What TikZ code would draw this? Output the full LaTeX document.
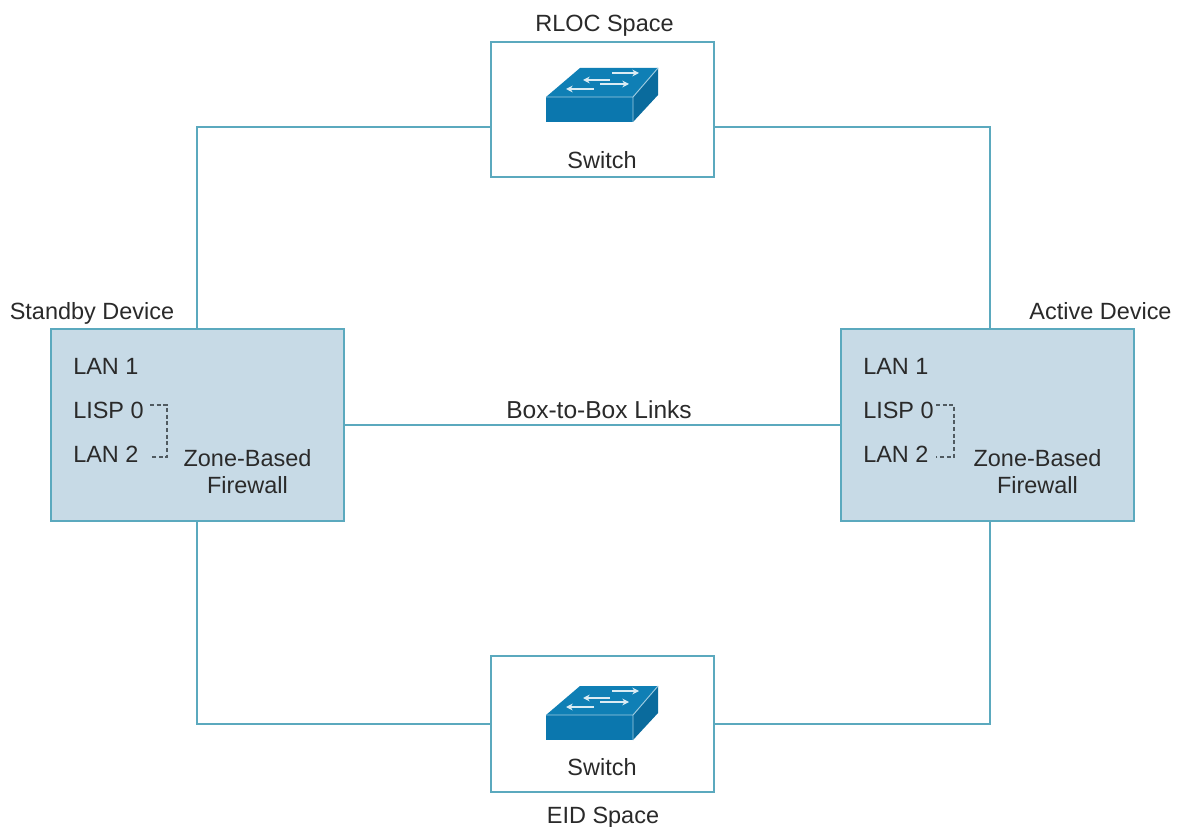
\documentclass[tikz,border=0pt]{standalone}
\usepackage{fontspec}
\setmainfont{Liberation Sans}
\usetikzlibrary{arrows.meta}
\definecolor{linec}{HTML}{5BA9BE}
\definecolor{boxfill}{HTML}{C7DAE6}
\definecolor{swfront}{HTML}{0B77AE}
\definecolor{swtop}{HTML}{0F7FB5}
\definecolor{txt}{HTML}{2A2A2A}
\definecolor{dash}{HTML}{505A60}
\tikzset{
  x=0.75pt,y=-0.75pt,
  swbox/.style={draw=linec,line width=1.3pt,fill=white,minimum width=167pt,minimum height=101.5pt,inner sep=0pt},
  fwbox/.style={draw=linec,line width=1.3pt,fill=boxfill,minimum width=220pt,minimum height=144pt,inner sep=0pt},
  link/.style={draw=linec,line width=1.3pt},
  lbl/.style={font=\fontsize{17.6pt}{21pt}\selectfont,text=txt,inner sep=0pt,anchor=base},
  jump/.style={draw=dash,line width=0.8pt,densely dashed},
  swarrow/.style={draw=white!85!swtop,line width=0.9pt,-{Stealth[length=5pt,width=5pt]}},
  pics/switchicon/.style={code={
    \fill[swfront] (0,0) rectangle (87,25);
    \fill[swtop] (0,0) -- (34,-29) -- (112,-29) -- (87,0) -- cycle;
    \fill[swfront!90!black] (87,0) -- (112,-29) -- (112,-2) -- (87,25) -- cycle;
    \draw[white!60!swtop,line width=0.7pt,line join=round] (0,0) -- (87,0) -- (112,-29) (87,0) -- (87,25);
    \draw[swarrow] (66,-24) -- (93,-24);
    \draw[swarrow] (64,-17) -- (37,-17);
    \draw[swarrow] (54,-13) -- (83,-13);
    \draw[swarrow] (48,-8) -- (20,-8);
  }}
}
\begin{document}
\begin{tikzpicture}
\useasboundingbox (0,0) rectangle (1186,827);
\fill[white] (0,0) rectangle (1186,827);

\node[swbox] (rloc) at (602.5,109.5) {};
\node[swbox] (eid) at (602.5,724) {};
\node[fwbox] (standby) at (197.5,425) {};
\node[fwbox] (active) at (987.5,425) {};

\coordinate (rlocL) at ([yshift=-13.1pt]rloc.west);
\coordinate (rlocR) at ([yshift=-13.1pt]rloc.east);
\coordinate (activeT) at ([xshift=1.9pt]active.north);
\coordinate (activeB) at ([xshift=1.9pt]active.south);
\coordinate (standbyT) at ([xshift=-0.2pt]standby.north);
\coordinate (standbyB) at ([xshift=-0.2pt]standby.south);

\draw[link] (standbyT) |- (rlocL);
\draw[link] (activeT) |- (rlocR);
\draw[link] (standbyB) |- (eid.west);
\draw[link] (activeB) |- (eid.east);
\draw[link] (standby.east) -- (active.west);

\pic at (546,97) {switchicon};
\pic at (546,715) {switchicon};

\node[lbl] (t1) at (604.5,32) {RLOC Space};
\node[lbl] (t2) at (602,169) {Switch};
\node[lbl] (t3) at (602,775) {Switch};
\node[lbl] (t4) at (603,823) {EID Space};
\node[lbl] (t5) at (92,320) {Standby Device};
\node[lbl] (t6) at (1100.5,320) {Active Device};
\node[lbl,font=\fontsize{18.4pt}{21pt}\selectfont] (t7) at (599,418) {Box-to-Box Links};

\node[lbl,anchor=base west] (a1) at (73,375) {LAN 1};
\node[lbl,anchor=base west] (a2) at (73,418) {LISP 0};
\node[lbl,anchor=base west] (a3) at (73,462) {LAN 2};
\node[lbl] (a4) at (247.5,466) {Zone-Based};
\node[lbl] (a5) at (247.5,493) {Firewall};
\draw[jump] (150,405) -- (167,405) -- (167,457) -- (150,457);

\node[lbl,anchor=base west] (b1) at (863,375) {LAN 1};
\node[lbl,anchor=base west] (b2) at (863,418) {LISP 0};
\node[lbl,anchor=base west] (b3) at (863,462) {LAN 2};
\node[lbl] (b4) at (1037.5,466) {Zone-Based};
\node[lbl] (b5) at (1037.5,493) {Firewall};
\draw[jump] (936,405) -- (954,405) -- (954,457) -- (936,457);
\end{tikzpicture}
\end{document}
